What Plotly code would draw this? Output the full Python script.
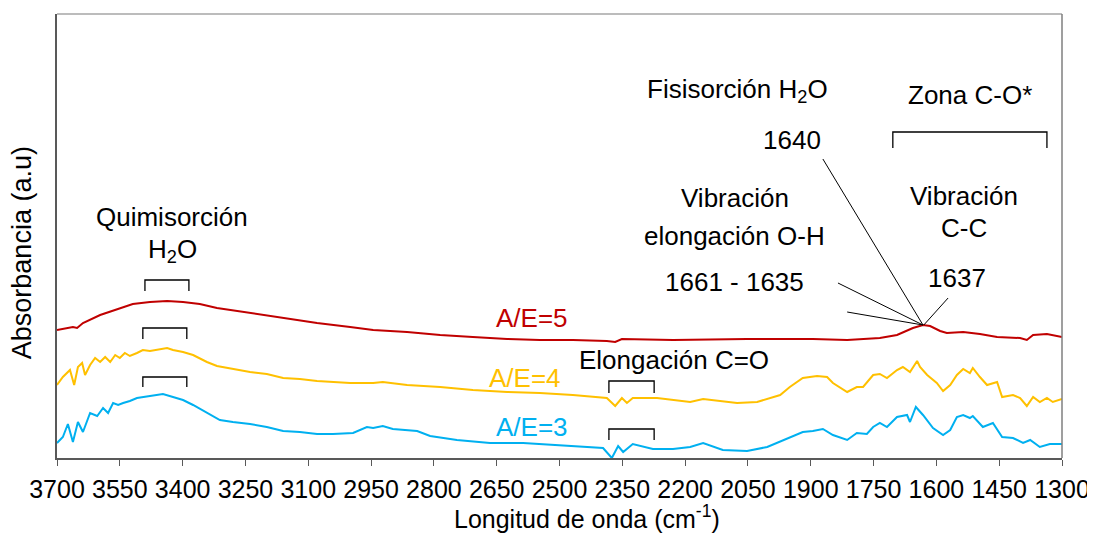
import plotly.graph_objects as go

# ---- Data (wavenumber cm-1, absorbance a.u.) ----
wn_ae5 = [3700, 3662, 3652, 3638, 3597, 3557, 3519, 3478, 3437, 3399, 3359, 3318, 3239, 3160, 3079, 3000,
          2945, 2864, 2785, 2707, 2625, 2547, 2468, 2387, 2367, 2351, 2229, 2052, 1895, 1813, 1735, 1694,
          1656, 1632, 1615, 1591, 1575, 1536, 1496, 1455, 1400, 1384, 1369, 1336, 1300]
abs_ae5 = [1.28, 1.31, 1.30, 1.35, 1.43, 1.49, 1.54, 1.56, 1.57, 1.56, 1.54, 1.50, 1.45, 1.40, 1.35, 1.31,
           1.28, 1.26, 1.23, 1.21, 1.19, 1.18, 1.18, 1.17, 1.16, 1.19, 1.18, 1.19, 1.19, 1.18, 1.20, 1.23,
           1.30, 1.33, 1.32, 1.27, 1.25, 1.26, 1.24, 1.21, 1.20, 1.18, 1.23, 1.24, 1.21]

wn_ae4 = [3700, 3686, 3669, 3659, 3650, 3640, 3633, 3621, 3609, 3597, 3585, 3573, 3561, 3550, 3538, 3526,
          3509, 3495, 3478, 3454, 3437, 3423, 3399, 3375, 3342, 3318, 3280, 3239, 3199, 3160, 3120, 3079,
          3000, 2945, 2922, 2864, 2785, 2707, 2625, 2547, 2468, 2403, 2387, 2367, 2351, 2339, 2325, 2267,
          2229, 2188, 2157, 2076, 2028, 1997, 1973, 1950, 1919, 1885, 1861, 1847, 1813, 1790, 1775, 1751,
          1735, 1718, 1694, 1680, 1663, 1646, 1639, 1622, 1599, 1584, 1567, 1551, 1536, 1520, 1513, 1496,
          1479, 1455, 1443, 1417, 1400, 1384, 1369, 1353, 1336, 1322, 1300]
abs_ae4 = [0.73, 0.81, 0.88, 0.73, 0.91, 0.95, 0.83, 0.93, 1.00, 0.96, 1.01, 0.96, 1.03, 1.00, 1.05, 1.02,
           1.05, 1.08, 1.07, 1.09, 1.10, 1.08, 1.06, 1.03, 0.96, 0.92, 0.89, 0.86, 0.84, 0.80, 0.79, 0.77,
           0.75, 0.75, 0.76, 0.73, 0.71, 0.68, 0.66, 0.65, 0.63, 0.61, 0.60, 0.52, 0.60, 0.55, 0.60, 0.60,
           0.58, 0.56, 0.59, 0.55, 0.56, 0.60, 0.63, 0.71, 0.80, 0.82, 0.81, 0.75, 0.66, 0.71, 0.71, 0.83,
           0.84, 0.80, 0.88, 0.91, 0.86, 0.97, 0.91, 0.83, 0.75, 0.67, 0.73, 0.83, 0.89, 0.85, 0.90, 0.81,
           0.73, 0.76, 0.61, 0.63, 0.60, 0.52, 0.61, 0.56, 0.60, 0.56, 0.59]

wn_ae3 = [3700, 3686, 3674, 3662, 3650, 3638, 3621, 3604, 3590, 3578, 3566, 3554, 3542, 3526, 3509, 3495,
          3471, 3447, 3423, 3399, 3375, 3342, 3311, 3280, 3239, 3199, 3160, 3120, 3079, 3041, 3000, 2993,
          2960, 2945, 2922, 2898, 2840, 2809, 2745, 2666, 2587, 2506, 2427, 2396, 2375, 2360, 2348, 2325,
          2277, 2229, 2188, 2157, 2110, 2052, 2004, 1957, 1919, 1895, 1871, 1847, 1813, 1790, 1766, 1751,
          1735, 1718, 1694, 1670, 1663, 1649, 1632, 1608, 1584, 1567, 1551, 1536, 1520, 1513, 1489, 1465,
          1443, 1417, 1393, 1376, 1353, 1329, 1300]
abs_ae3 = [0.15, 0.21, 0.34, 0.16, 0.36, 0.26, 0.45, 0.42, 0.50, 0.45, 0.55, 0.53, 0.55, 0.57, 0.60, 0.61,
           0.62, 0.64, 0.61, 0.58, 0.53, 0.45, 0.38, 0.36, 0.34, 0.31, 0.27, 0.26, 0.24, 0.24, 0.25, 0.25,
           0.31, 0.30, 0.32, 0.29, 0.27, 0.22, 0.18, 0.15, 0.15, 0.13, 0.11, 0.10, 0.00, 0.12, 0.06, 0.14,
           0.09, 0.09, 0.11, 0.15, 0.08, 0.07, 0.11, 0.19, 0.26, 0.27, 0.29, 0.23, 0.18, 0.25, 0.24, 0.31,
           0.35, 0.31, 0.41, 0.43, 0.36, 0.51, 0.43, 0.30, 0.23, 0.28, 0.41, 0.43, 0.40, 0.42, 0.31, 0.35,
           0.21, 0.20, 0.15, 0.18, 0.11, 0.14, 0.14]

tick_vals = [3700, 3550, 3400, 3250, 3100, 2950, 2800, 2650, 2500, 2350, 2200, 2050, 1900, 1750, 1600, 1450, 1300]

series_names = ["A/E=5", "A/E=4", "A/E=3"]
series_colors = ["#C00000", "#FFC000", "#00B0F0"]

# Brackets: (x_left, x_right, y_top, y_bottom)
brackets = [
    (3490, 3385, 1.78, 1.67),
    (3495, 3390, 1.30, 1.19),
    (3495, 3390, 0.81, 0.71),
    (2382, 2274, 0.77, 0.65),
    (2382, 2274, 0.29, 0.18),
    (1704, 1336, 3.26, 3.10),
]
# Leader lines: (x0, y0, x1, y1)
leaders = [
    (1871, 2.99, 1632, 1.33),
    (1835, 1.75, 1632, 1.33),
    (1813, 1.46, 1632, 1.33),
    (1572, 1.60, 1630, 1.33),
]
# Text labels: (x, y, text, color)
labels = [
    (3425, 2.41, "Quimisorción", "black"),
    (3425, 2.08, "H<sub>2</sub>O", "black"),
    (2227, 0.98, "Elongación C=O", "black"),
    (2566, 1.40, "A/E=5", "#C00000"),
    (2582, 0.80, "A/E=4", "#FFC000"),
    (2566, 0.31, "A/E=3", "#00B0F0"),
    (2076, 3.68, "Fisisorción H<sub>2</sub>O", "black"),
    (1520, 3.63, "Zona C-O*", "black"),
    (1945, 3.18, "1640", "black"),
    (2081, 2.60, "Vibración", "black"),
    (2081, 2.22, "elongación O-H", "black"),
    (2081, 1.76, "1661 - 1635", "black"),
    (1534, 2.62, "Vibración", "black"),
    (1534, 2.30, "C-C", "black"),
    (1551, 1.80, "1637", "black"),
]

FONT = "Liberation Sans, Arial, sans-serif"

fig = go.Figure()
for wn, ab, name, col in zip([wn_ae5, wn_ae4, wn_ae3], [abs_ae5, abs_ae4, abs_ae3], series_names, series_colors):
    fig.add_trace(go.Scatter(x=wn, y=ab, mode="lines", name=name,
                             line=dict(color=col, width=2), showlegend=False))

shapes = []
for x0, x1, yt, yb in brackets:
    shapes.append(dict(type="path", xref="x", yref="y",
                       path=f"M {x0},{yb} L {x0},{yt} L {x1},{yt} L {x1},{yb}",
                       line=dict(color="black", width=1.3)))
for x0, y0, x1, y1 in leaders:
    shapes.append(dict(type="line", xref="x", yref="y", x0=x0, y0=y0, x1=x1, y1=y1,
                       line=dict(color="black", width=1)))
# frame top/right
shapes.append(dict(type="line", xref="paper", yref="paper", x0=0, x1=1, y0=1, y1=1,
                   line=dict(color="#a6a6a6", width=1.5)))
shapes.append(dict(type="line", xref="paper", yref="paper", x0=1, x1=1, y0=0, y1=1,
                   line=dict(color="#7f7f7f", width=1.5)))

annotations = []
for x, y, t, c in labels:
    annotations.append(dict(x=x, y=y, xref="x", yref="y", text=t, showarrow=False,
                            font=dict(family=FONT, size=26, color=c),
                            xanchor="center", yanchor="middle"))
# axis titles as annotations
annotations.append(dict(x=0.527, y=-0.133, xref="paper", yref="paper",
                        text="Longitud de onda (cm<sup>-1</sup>)", showarrow=False,
                        font=dict(family=FONT, size=25, color="black"),
                        xanchor="center", yanchor="middle", borderpad=0))
annotations.append(dict(x=-0.0345, y=0.462, xref="paper", yref="paper",
                        text="Absorbancia (a.u)", showarrow=False, textangle=-90,
                        font=dict(family=FONT, size=27, color="black"),
                        xanchor="center", yanchor="middle"))

# page body has an 8px margin: compensate so the plot area sits at 57..1062 x 14..458
fig.update_layout(
    width=1087, height=525,
    margin=dict(l=49, r=33, t=6, b=75, autoexpand=False),
    paper_bgcolor="white", plot_bgcolor="white",
    font=dict(family=FONT, color="black"),
    shapes=shapes, annotations=annotations,
    xaxis=dict(range=[3700, 1300], tickvals=tick_vals, ticktext=[str(v) for v in tick_vals],
               tickangle=0, showgrid=False, zeroline=False, automargin=False,
               showline=True, linecolor="#595959", linewidth=1.5,
               ticks="outside", ticklen=6, tickcolor="#595959", tickwidth=1,
               ticklabelstandoff=2,
               tickfont=dict(family=FONT, size=25, color="black")),
    yaxis=dict(range=[0, 4.44], showticklabels=False, showgrid=False, zeroline=False, automargin=False,
               showline=True, linecolor="#595959", linewidth=1.5, ticks=""),
)

fig.write_html("out.html")
